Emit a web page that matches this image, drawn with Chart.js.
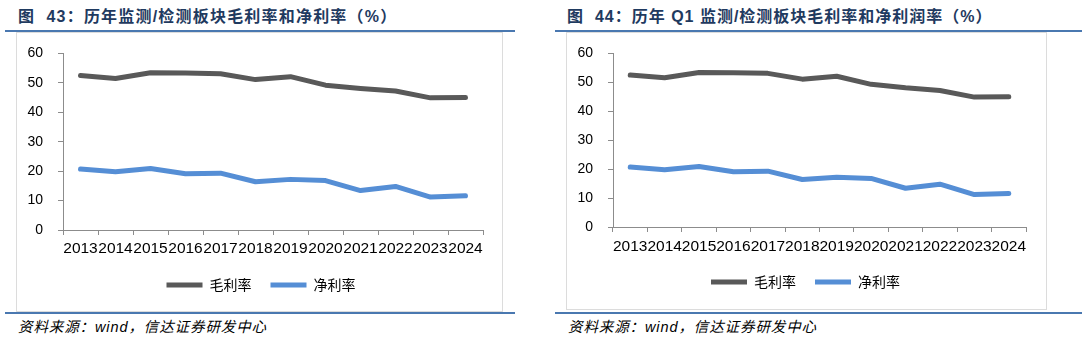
<!DOCTYPE html>
<html>
<head>
<meta charset="utf-8">
<script src="https://cdn.jsdelivr.net/npm/chart.js@4/dist/chart.umd.min.js"></script>
<style>
  body { margin: 0; background: #fff; width: 1082px; height: 338px; position: relative; overflow: hidden; }
  .title { position: absolute; top: 3px; font-family: "Liberation Sans", "Noto Sans CJK SC", sans-serif; font-weight: bold; font-size: 16px; color: #1f3a60; white-space: nowrap; letter-spacing: 1.2px; }
  .rule { position: absolute; height: 2px; background: #4a78b0; }
  .box { position: absolute; border: 1px solid #dcdcdc; box-sizing: border-box; background: #fff; }
  .box canvas { position: absolute; left: 0; top: -3px; }
  .source { position: absolute; top: 315px; font-family: "Liberation Sans", "Noto Sans CJK SC", sans-serif; font-style: italic; font-size: 14.5px; letter-spacing: 0.9px; color: #000; white-space: nowrap; }
</style>
</head>
<body>
<div class="title" style="left:18px">图&nbsp; 43：历年监测/检测板块毛利率和净利率（%）</div>
<div class="title" style="left:567px; letter-spacing:1px">图&nbsp; 44：历年 Q1 监测/检测板块毛利率和净利润率（%）</div>
<div class="rule" style="left:5px; width:510px; top:30px"></div>
<div class="rule" style="left:555px; width:527px; top:30px"></div>
<div class="box" style="left:16px; top:32px; width:487px; height:280px"><canvas id="chartLeft"></canvas></div>
<div class="box" style="left:566px; top:32px; width:481px; height:278px"><canvas id="chartRight"></canvas></div>
<div class="rule" style="left:5px; width:510px; top:312px"></div>
<div class="rule" style="left:555px; width:527px; top:312px"></div>
<div class="source" style="left:18px">资料来源：wind，信达证券研发中心</div>
<div class="source" style="left:568px">资料来源：wind，信达证券研发中心</div>

<script>
// Données
const years = ["2013", "2014", "2015", "2016", "2017", "2018", "2019", "2020", "2021", "2022", "2023", "2024"];
const yTicks = [0, 10, 20, 30, 40, 50, 60];

// Figure 43 : annuel
const grossAnnual = [52.5, 51.5, 53.4, 53.3, 53.1, 51.1, 52.1, 49.2, 48.1, 47.2, 44.9, 45.0];
const netAnnual = [20.7, 19.8, 20.9, 19.1, 19.3, 16.4, 17.2, 16.8, 13.4, 14.8, 11.2, 11.6];

// Figure 44 : Q1
const grossQ1 = [52.5, 51.6, 53.4, 53.3, 53.1, 51.1, 52.1, 49.3, 48.1, 47.2, 44.9, 45.0];
const netQ1 = [20.7, 19.8, 20.9, 19.1, 19.3, 16.4, 17.2, 16.8, 13.4, 14.8, 11.2, 11.6];

const axisColor = "#8c8c8c";

function makeChart(id, w, h, gross, net, pad) {
  const canvas = document.getElementById(id);
  canvas.width = w;
  canvas.height = h;
  canvas.style.width = w + "px";
  canvas.style.height = h + "px";

  new Chart(canvas.getContext("2d"), {
    type: "line",
    data: {
      labels: years,
      datasets: [
        {
          label: "毛利率",
          data: gross,
          borderColor: "#595959",
          backgroundColor: "#595959",
          borderWidth: 5,
          pointRadius: 0,
          tension: 0,
          borderCapStyle: "round",
          borderJoinStyle: "round",
        },
        {
          label: "净利率",
          data: net,
          borderColor: "#558ed5",
          backgroundColor: "#558ed5",
          borderWidth: 5,
          pointRadius: 0,
          tension: 0,
          borderCapStyle: "round",
          borderJoinStyle: "round",
        },
      ],
    },
    plugins: [
      {
        // décaler un peu la légende vers la droite, comme dans l'original
        id: "legendShift",
        afterLayout: (chart) => {
          chart.legend.left += pad.lx;
          chart.legend.right += pad.lx;
        },
      },
    ],
    options: {
      responsive: false,
      animation: false,
      devicePixelRatio: 1,
      layout: { padding: { left: 0, right: pad.right, top: 17, bottom: 0 } },
      plugins: {
        legend: {
          position: "bottom",
          labels: {
            boxWidth: 36,
            boxHeight: 5,
            padding: 19,
            color: "#000",
            font: { family: "'Noto Sans CJK SC'", size: 14 },
            // trait plein sans contour
            generateLabels: (chart) =>
              Chart.defaults.plugins.legend.labels.generateLabels(chart).map((item) => ({ ...item, lineWidth: 0 })),
          },
        },
        tooltip: { enabled: false },
      },
      scales: {
        x: {
          offset: true,
          grid: { display: true, drawOnChartArea: false, drawTicks: true, tickLength: 5, color: axisColor, offset: true },
          border: { color: axisColor },
          ticks: {
            autoSkip: false,
            maxRotation: 0,
            minRotation: 0,
            padding: pad.xp,
            color: "#000",
            font: { family: "'Liberation Sans'", size: 15.5 },
          },
          afterFit: (scale) => { scale.height = pad.xh; },
        },
        y: {
          min: 0,
          max: 60,
          afterBuildTicks: (scale) => { scale.ticks = yTicks.map((v) => ({ value: v })); },
          grid: { display: true, drawOnChartArea: false, drawTicks: true, tickLength: 5, color: axisColor },
          border: { color: axisColor },
          ticks: {
            padding: 15,
            color: "#000",
            font: { family: "'Liberation Sans'", size: 14 },
          },
          afterFit: (scale) => { scale.width = 46; },
        },
      },
    },
  });
}

document.addEventListener("DOMContentLoaded", () => {
  makeChart("chartLeft", 485, 272, grossAnnual, netAnnual, { right: 19, xh: 29, xp: 4, lx: 11 });
  makeChart("chartRight", 479, 269, grossQ1, netQ1, { right: 20, xh: 29, xp: 5, lx: 9 });
});
</script>
</body>
</html>
